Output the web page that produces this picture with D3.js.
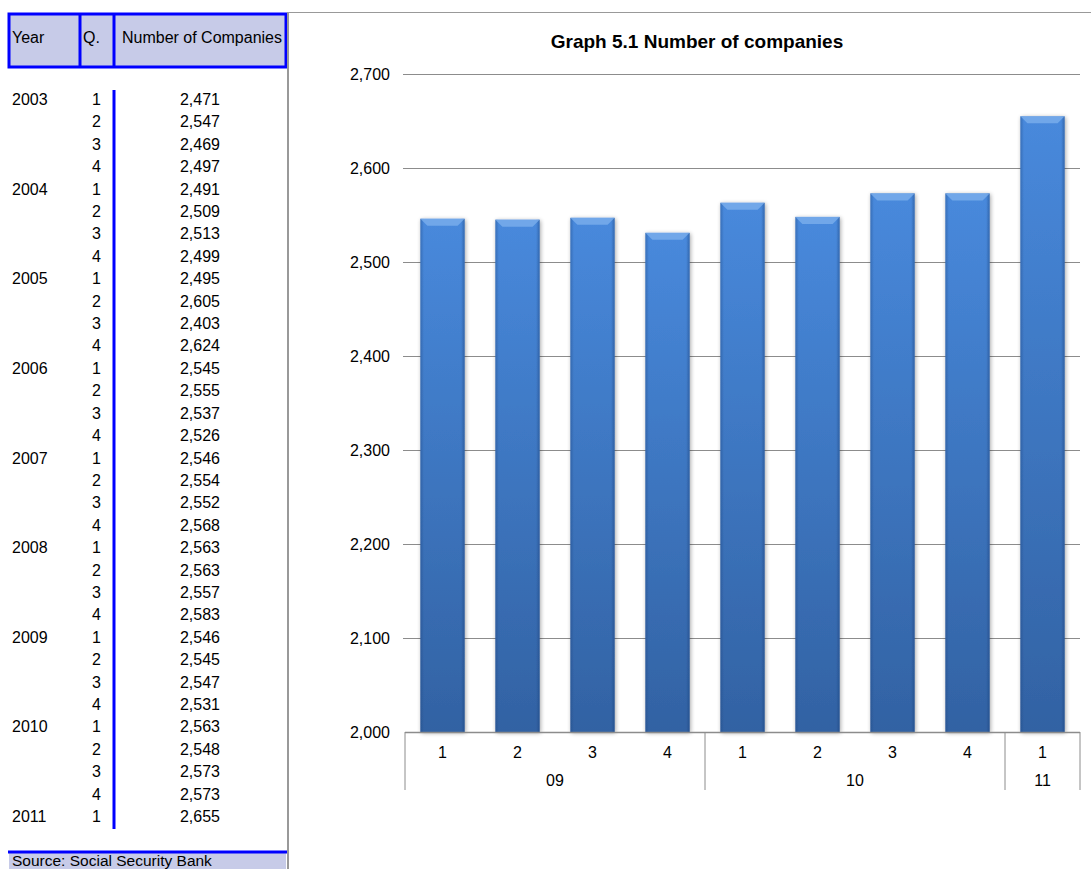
<!DOCTYPE html>
<html>
<head>
<meta charset="utf-8">
<script src="https://cdn.jsdelivr.net/npm/d3@7"></script>
<style>
  body { margin: 0; background: #fff; }
  svg { display: block; font-family: "Liberation Sans", Arial, sans-serif; }
</style>
</head>
<body>
<div id="chart"></div>
<script>
// Datos de la tabla (año, trimestre, número de empresas)
const years = ["2003", "", "", "", "2004", "", "", "", "2005", "", "", "", "2006", "", "", "",
               "2007", "", "", "", "2008", "", "", "", "2009", "", "", "", "2010", "", "", "", "2011"];
const quarters = [1, 2, 3, 4, 1, 2, 3, 4, 1, 2, 3, 4, 1, 2, 3, 4,
                  1, 2, 3, 4, 1, 2, 3, 4, 1, 2, 3, 4, 1, 2, 3, 4, 1];
const companies = [2471, 2547, 2469, 2497, 2491, 2509, 2513, 2499, 2495, 2605, 2403, 2624,
                   2545, 2555, 2537, 2526, 2546, 2554, 2552, 2568, 2563, 2563, 2557, 2583,
                   2546, 2545, 2547, 2531, 2563, 2548, 2573, 2573, 2655];

// Datos del gráfico (últimos 9 trimestres)
const chartQuarters = ["1", "2", "3", "4", "1", "2", "3", "4", "1"];
const chartYears = ["09", "09", "09", "09", "10", "10", "10", "10", "11"];
const chartValues = [2546, 2545, 2547, 2531, 2563, 2548, 2573, 2573, 2655];
const yTicks = [2000, 2100, 2200, 2300, 2400, 2500, 2600, 2700];

const width = 1091, height = 869;
const svg = d3.select("#chart").append("svg")
  .attr("width", width)
  .attr("height", height);

const fmt = d3.format(",");
const blue = "#0000ff", lav = "#c7cbe8";
const fs = 16;

// ---------- Tabla ----------
svg.append("rect").attr("x", 9).attr("y", 14).attr("width", 277).attr("height", 53)
  .attr("fill", lav).attr("stroke", blue).attr("stroke-width", 3);
[80, 114].forEach(x => svg.append("line")
  .attr("x1", x).attr("x2", x).attr("y1", 14).attr("y2", 67)
  .attr("stroke", blue).attr("stroke-width", 3));
svg.append("text").attr("x", 12).attr("y", 43).attr("font-size", fs).text("Year");
svg.append("text").attr("x", 83).attr("y", 43).attr("font-size", fs).text("Q.");
svg.append("text").attr("x", 122).attr("y", 43).attr("font-size", fs).attr("textLength", 160).text("Number of Companies");

const rowY = d3.scaleLinear().domain([0, companies.length - 1]).range([105, 822]);

svg.append("line").attr("x1", 114).attr("x2", 114).attr("y1", 90).attr("y2", 829)
  .attr("stroke", blue).attr("stroke-width", 3);

const rows = svg.append("g").attr("font-size", fs).attr("fill", "#000");
rows.selectAll(".yr").data(years).enter().append("text")
  .attr("x", 12).attr("y", (d, i) => rowY(i)).text(d => d);
rows.selectAll(".q").data(quarters).enter().append("text")
  .attr("x", 101).attr("y", (d, i) => rowY(i)).attr("text-anchor", "end").text(d => d);
rows.selectAll(".n").data(companies).enter().append("text")
  .attr("x", 200).attr("y", (d, i) => rowY(i)).attr("text-anchor", "middle").text(d => fmt(d));

// Pie de la tabla
svg.append("rect").attr("x", 9).attr("y", 853).attr("width", 277).attr("height", 20).attr("fill", lav);
svg.append("line").attr("x1", 8).attr("x2", 287).attr("y1", 852).attr("y2", 852)
  .attr("stroke", blue).attr("stroke-width", 3);
svg.append("text").attr("x", 12).attr("y", 866).attr("font-size", 15.5).text("Source: Social Security Bank");

// Bordes grises
svg.append("line").attr("x1", 288).attr("x2", 288).attr("y1", 12).attr("y2", 869)
  .attr("stroke", "#999").attr("stroke-width", 2);
svg.append("line").attr("x1", 287).attr("x2", 1091).attr("y1", 12.5).attr("y2", 12.5)
  .attr("stroke", "#999").attr("stroke-width", 1);

// ---------- Gráfico ----------
svg.append("text").attr("x", 697).attr("y", 48).attr("text-anchor", "middle")
  .attr("font-size", 19).attr("font-weight", "bold").text("Graph 5.1 Number of companies");

const plot = { left: 405, right: 1080, top: 74, bottom: 732 };
const x = d3.scaleBand().domain(d3.range(chartValues.length))
  .range([plot.left, plot.right]).paddingInner(0.41).paddingOuter(0.205);
const y = d3.scaleLinear().domain([2000, 2700]).range([plot.bottom, plot.top]);

// Gradientes de las barras
const defs = svg.append("defs");
const gv = defs.append("linearGradient").attr("id", "gv").attr("x1", 0).attr("x2", 0).attr("y1", 0).attr("y2", 1);
gv.append("stop").attr("offset", "0%").attr("stop-color", "#4889dc");
gv.append("stop").attr("offset", "100%").attr("stop-color", "#3262a3");
const gh = defs.append("linearGradient").attr("id", "gh");
gh.append("stop").attr("offset", "0%").attr("stop-color", "#1a3f78").attr("stop-opacity", 0.35);
gh.append("stop").attr("offset", "8%").attr("stop-color", "#1a3f78").attr("stop-opacity", 0);
gh.append("stop").attr("offset", "92%").attr("stop-color", "#1a3f78").attr("stop-opacity", 0);
gh.append("stop").attr("offset", "100%").attr("stop-color", "#1a3f78").attr("stop-opacity", 0.45);
const shadow = defs.append("filter").attr("id", "sh").attr("x", "-30%").attr("width", "160%");
shadow.append("feGaussianBlur").attr("in", "SourceAlpha").attr("stdDeviation", 2);
shadow.append("feOffset").attr("dx", 1).attr("dy", 1).attr("result", "b");
shadow.append("feComponentTransfer").append("feFuncA").attr("type", "linear").attr("slope", 0.35);
const merge = shadow.append("feMerge");
merge.append("feMergeNode");
merge.append("feMergeNode").attr("in", "SourceGraphic");

// Líneas de la cuadrícula y etiquetas del eje Y
svg.append("g").selectAll("line").data(yTicks.slice(1)).enter().append("line")
  .attr("x1", 403).attr("x2", plot.right)
  .attr("y1", d => y(d) + 0.5).attr("y2", d => y(d) + 0.5)
  .attr("stroke", "#8c8c8c").attr("stroke-width", 1);
svg.append("g").selectAll("text").data(yTicks).enter().append("text")
  .attr("x", 390).attr("y", d => y(d) + 6).attr("text-anchor", "end")
  .attr("font-size", fs).text(d => fmt(d));

// Barras
const bars = svg.append("g").selectAll("g").data(chartValues).enter().append("g")
  .attr("filter", "url(#sh)");
bars.append("rect")
  .attr("x", (d, i) => x(i)).attr("y", d => y(d))
  .attr("width", x.bandwidth()).attr("height", d => plot.bottom - y(d))
  .attr("fill", "url(#gv)");
bars.append("rect")
  .attr("x", (d, i) => x(i)).attr("y", d => y(d))
  .attr("width", x.bandwidth()).attr("height", d => plot.bottom - y(d))
  .attr("fill", "url(#gh)");
// Bisel superior
bars.append("path")
  .attr("d", (d, i) => {
    const x0 = x(i), x1 = x(i) + x.bandwidth(), t = y(d);
    return `M${x0},${t}L${x1},${t}L${x1 - 7},${t + 7}L${x0 + 7},${t + 7}Z`;
  })
  .attr("fill", "#7fb2ee").attr("opacity", 0.75);

// Eje X
svg.append("line").attr("x1", plot.left).attr("x2", plot.right)
  .attr("y1", plot.bottom + 0.5).attr("y2", plot.bottom + 0.5)
  .attr("stroke", "#8c8c8c").attr("stroke-width", 1.5);

const step = x.step();
const bounds = [0, 4, 8, 9];
svg.append("g").selectAll("line").data(bounds).enter().append("line")
  .attr("x1", d => plot.left + d * step).attr("x2", d => plot.left + d * step)
  .attr("y1", plot.bottom).attr("y2", 790)
  .attr("stroke", "#8c8c8c").attr("stroke-width", 1);

svg.append("g").selectAll("text").data(chartQuarters).enter().append("text")
  .attr("x", (d, i) => x(i) + x.bandwidth() / 2).attr("y", 758)
  .attr("text-anchor", "middle").attr("font-size", fs).text(d => d);

const groups = d3.groups(chartYears.map((yr, i) => ({ yr, i })), d => d.yr);
svg.append("g").selectAll("text").data(groups).enter().append("text")
  .attr("x", d => {
    const first = d[1][0].i, last = d[1][d[1].length - 1].i;
    return (x(first) + x(last) + x.bandwidth()) / 2;
  })
  .attr("y", 786).attr("text-anchor", "middle").attr("font-size", fs).text(d => d[0]);
</script>
</body>
</html>
